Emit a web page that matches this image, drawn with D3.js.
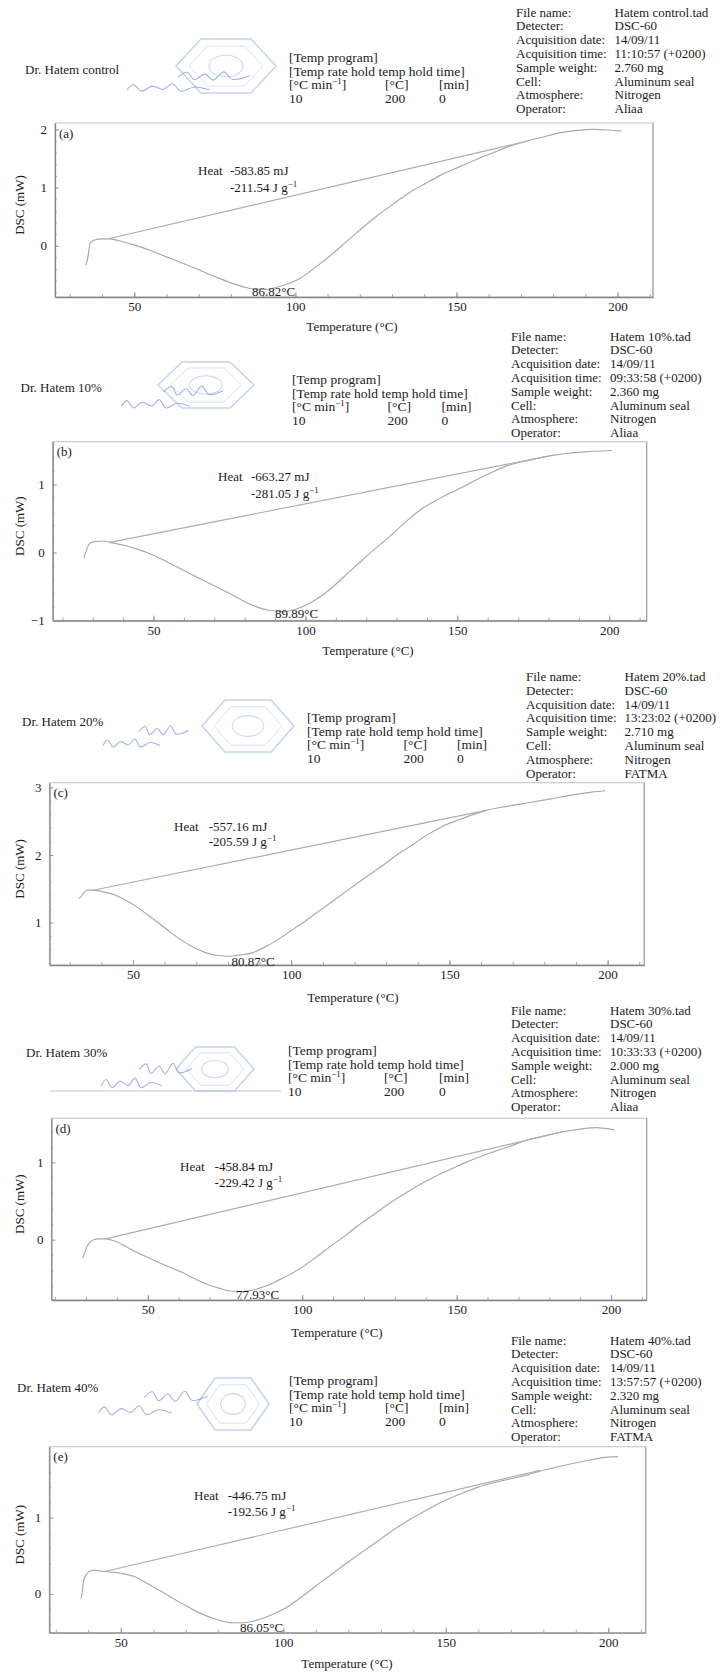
<!DOCTYPE html>
<html>
<head>
<meta charset="utf-8">
<script src="https://cdn.jsdelivr.net/npm/d3@7"></script>
<style>
  body { margin: 0; background: #fff; }
  svg text { font-family: "Liberation Serif", "Times New Roman", serif; fill: #1b1b1b; }
</style>
</head>
<body>
<div id="chart"></div>
<script>
// ---- data ----
const panelLetters = ['(a)', '(b)', '(c)', '(d)', '(e)'];
const sampleNames = ['Dr. Hatem control', 'Dr. Hatem 10%', 'Dr. Hatem 20%', 'Dr. Hatem 30%', 'Dr. Hatem 40%'];
const fileNames = ['Hatem control.tad', 'Hatem 10%.tad', 'Hatem 20%.tad', 'Hatem 30%.tad', 'Hatem 40%.tad'];
const acqDates = ['14/09/11', '14/09/11', '14/09/11', '14/09/11', '14/09/11'];
const acqTimes = ['11:10:57 (+0200)', '09:33:58 (+0200)', '13:23:02 (+0200)', '10:33:33 (+0200)', '13:57:57 (+0200)'];
const sampleWeights = ['2.760 mg', '2.360 mg', '2.710 mg', '2.000 mg', '2.320 mg'];
const operators = ['Aliaa', 'Aliaa', 'FATMA', 'Aliaa', 'FATMA'];
const heatMJ = ['-583.85', '-663.27', '-557.16', '-458.84', '-446.75'];
const heatJg = ['-211.54', '-281.05', '-205.59', '-229.42', '-192.56'];
const peakTemps = ['86.82', '89.89', '80.87', '77.93', '86.05'];

const xTicks = [50, 100, 150, 200];
const yTicks = [[0, 1, 2], [-1, 0, 1], [1, 2, 3], [0, 1], [0, 1]];
const xDomains = [[25.4, 211], [16.8, 212.3], [23.6, 211.6], [18.8, 211.5], [28.0, 211.5]];
const yDomains = [[-0.88, 2.11], [-1.0, 1.63], [0.37, 3.07], [-0.78, 1.57], [-0.51, 1.93]];

// temperature (°C) / heat flow (mW)
const tempA = [35.0, 35.6, 36.3, 37.3, 38.5, 40, 42.5, 45, 49.7, 55, 60, 65, 70.4, 75, 80.7, 85, 88, 91, 95, 101.4, 106, 111.7, 116, 120, 125, 130.4, 135, 140.7, 145, 151, 156, 161.4, 166, 172, 177, 182, 187, 192.4, 197, 201.2];
const dscA = [-0.33, -0.2, 0.04, 0.09, 0.11, 0.12, 0.12, 0.09, 0.02, -0.08, -0.19, -0.3, -0.42, -0.53, -0.65, -0.72, -0.75, -0.75, -0.70, -0.56, -0.38, -0.13, 0.08, 0.27, 0.5, 0.72, 0.90, 1.08, 1.21, 1.36, 1.48, 1.60, 1.70, 1.80, 1.87, 1.94, 1.98, 2.0, 1.99, 1.97];

const tempB = [27.1, 27.8, 28.9, 30.5, 33.5, 35.6, 40, 44.7, 50, 55, 59.8, 65, 70, 74.9, 80, 83.9, 88, 93, 97, 102, 107, 112.6, 118, 122, 127.6, 132, 137, 142.7, 147, 150.3, 155, 160, 165.4, 170, 175, 179, 183, 186.5, 192, 196, 200.8];
const dscB = [-0.08, 0.02, 0.13, 0.16, 0.17, 0.15, 0.11, 0.05, -0.04, -0.15, -0.26, -0.38, -0.49, -0.6, -0.72, -0.8, -0.85, -0.87, -0.83, -0.73, -0.58, -0.36, -0.14, 0.02, 0.23, 0.41, 0.6, 0.76, 0.86, 0.93, 1.04, 1.15, 1.26, 1.32, 1.37, 1.41, 1.44, 1.46, 1.48, 1.49, 1.50];

const tempC = [32.9, 33.5, 34.8, 36, 37.7, 40, 44.2, 48, 51.5, 55, 58.7, 62, 65.9, 70, 73.2, 77, 80.4, 84, 87.7, 91, 94.9, 100, 105, 109.4, 115, 120, 123.9, 130, 134, 138.4, 142, 145.7, 149, 152.9, 157, 161.6, 167, 174.6, 182, 189, 195, 199.2];
const dscC = [1.36, 1.38, 1.46, 1.48, 1.48, 1.46, 1.41, 1.32, 1.22, 1.10, 0.97, 0.85, 0.72, 0.61, 0.55, 0.51, 0.50, 0.52, 0.55, 0.62, 0.72, 0.88, 1.04, 1.19, 1.38, 1.55, 1.68, 1.88, 2.02, 2.15, 2.27, 2.37, 2.45, 2.52, 2.59, 2.66, 2.71, 2.77, 2.83, 2.89, 2.93, 2.95];

const tempD = [28.9, 29.5, 30.2, 31.1, 32.5, 34.1, 36.3, 40, 43, 46.7, 50, 55, 61.6, 66, 70, 73.4, 76, 79.4, 83, 86, 88.3, 93, 98.7, 105, 109, 113.5, 118, 123, 128.3, 133, 138, 143.2, 148, 153, 158, 163, 168, 172.9, 178, 184.8, 190, 195.2, 198, 201.1];
const dscD = [-0.24, -0.18, -0.1, -0.04, 0.0, 0.01, 0.01, -0.03, -0.09, -0.17, -0.23, -0.32, -0.43, -0.52, -0.59, -0.63, -0.66, -0.67, -0.66, -0.63, -0.6, -0.51, -0.39, -0.21, -0.09, 0.04, 0.18, 0.32, 0.47, 0.59, 0.71, 0.82, 0.91, 1.0, 1.08, 1.15, 1.22, 1.29, 1.34, 1.40, 1.43, 1.45, 1.44, 1.42];

const tempE = [37.6, 37.9, 38.2, 38.6, 39.5, 40.7, 42, 43.7, 46, 50, 53.9, 58, 64.1, 69, 74.2, 79, 84.4, 88, 90.5, 95, 99.7, 105, 109.9, 115, 120, 125, 130, 135, 140, 145, 150, 155, 160, 165, 170, 175, 179, 185, 190, 195, 199, 203];
const dscE = [-0.06, -0.04, 0.05, 0.18, 0.26, 0.30, 0.31, 0.30, 0.29, 0.27, 0.23, 0.14, -0.01, -0.13, -0.25, -0.33, -0.38, -0.38, -0.36, -0.30, -0.21, -0.06, 0.10, 0.26, 0.42, 0.57, 0.72, 0.87, 1.0, 1.12, 1.23, 1.32, 1.40, 1.46, 1.51, 1.56, 1.61, 1.67, 1.72, 1.76, 1.79, 1.80];

// integration baseline end points [start, end]
const baseTemps = [[42, 172], [35.6, 179], [37.7, 161.6], [36.3, 184.8], [44.7, 179]];
const baseDsc = [[0.12, 1.80], [0.15, 1.41], [1.48, 2.66], [0.01, 1.40], [0.29, 1.62]];

const temps = [tempA, tempB, tempC, tempD, tempE];
const dscs = [dscA, dscB, dscC, dscD, dscE];

// ---- layout (pixels) ----
const frames = [
  {left: 55, right: 653, top: 123, bottom: 297},
  {left: 52.7, right: 646.6, top: 441.7, bottom: 620.5},
  {left: 49.5, right: 644.3, top: 782.7, bottom: 965},
  {left: 51.4, right: 646.6, top: 1118.3, bottom: 1300},
  {left: 49.3, right: 645.7, top: 1446.7, bottom: 1632.7}
];
const headers = [
  {nameX: 25, nameY: 74, progX: 289, progY: 62, col2: 385, col3: 439, metaX: 516, valX: 614.5, metaY: 16.5},
  {nameX: 20.6, nameY: 392, progX: 292, progY: 384, col2: 387.5, col3: 441.6, metaX: 511, valX: 610, metaY: 340.5},
  {nameX: 22, nameY: 725.5, progX: 307, progY: 722, col2: 403.6, col3: 457, metaX: 526, valX: 624.6, metaY: 681},
  {nameX: 26, nameY: 1057, progX: 288, progY: 1055, col2: 384, col3: 439, metaX: 511, valX: 610, metaY: 1014.5},
  {nameX: 17, nameY: 1392, progX: 289, progY: 1385, col2: 385, col3: 439, metaX: 511, valX: 610, metaY: 1344.5}
];
const notes = [
  {heatX: 198, heatY: 175, valX: 230, jgY: 191.5, peakX: 252, peakY: 296, titleX: 352, titleY: 331},
  {heatX: 218, heatY: 481, valX: 251, jgY: 498, peakX: 275, peakY: 617.5, titleX: 368, titleY: 655},
  {heatX: 174, heatY: 830.5, valX: 208.7, jgY: 846, peakX: 231.6, peakY: 966, titleX: 353, titleY: 1001.7},
  {heatX: 180, heatY: 1171, valX: 214.6, jgY: 1187, peakX: 236, peakY: 1299, titleX: 337, titleY: 1336.7},
  {heatX: 194, heatY: 1499.5, valX: 227.7, jgY: 1515.5, peakX: 240, peakY: 1632, titleX: 347, titleY: 1668}
];
const stamps = [
  {hex: {x: 176, y: 39, w: 100, h: 54}, scrib: {x: 124, y: 70, w: 135, h: 23}},
  {hex: {x: 158, y: 362, w: 96, h: 46}, scrib: {x: 119, y: 384, w: 112, h: 26}},
  {hex: {x: 202, y: 700, w: 92, h: 52}, scrib: {x: 101, y: 724, w: 94, h: 25}},
  {hex: {x: 176, y: 1047, w: 78, h: 44}, scrib: {x: 99, y: 1061, w: 100, h: 29}, rule: 1091},
  {hex: {x: 197, y: 1378, w: 72, h: 52}, scrib: {x: 96, y: 1389, w: 120, h: 28}}
];
// normalised pen strokes for the handwritten signature/date on the stamps
const penStrokes = [
  [[0.40, 0.30], [0.47, 0.10], [0.52, 0.42], [0.60, 0.18], [0.66, 0.44], [0.74, 0.08], [0.80, 0.40], [0.93, 0.26]],
  [[0.02, 0.86], [0.07, 0.64], [0.13, 0.92], [0.21, 0.70], [0.29, 0.84], [0.36, 0.60], [0.42, 0.92], [0.52, 0.74], [0.63, 0.86]]
];

const W = 720, H = 1674;
const svg = d3.select('#chart').append('svg')
  .attr('width', W)
  .attr('height', H);

function hexPoints(b, k) {
  const cx = b.x + b.w / 2, cy = b.y + b.h / 2, hw = b.w * k / 2, hh = b.h * k / 2;
  return [[cx - hw, cy], [cx - hw / 2, cy - hh], [cx + hw / 2, cy - hh], [cx + hw, cy], [cx + hw / 2, cy + hh], [cx - hw / 2, cy + hh]]
    .map(p => p.join(',')).join(' ');
}

function drawStamp(st) {
  const g = svg.append('g').attr('fill', 'none');
  if (st.rule) {
    g.append('line')
      .attr('x1', 50).attr('x2', 281)
      .attr('y1', st.rule).attr('y2', st.rule)
      .attr('stroke', '#c3c7cf').attr('stroke-width', 1.2);
  }
  const h = st.hex;
  g.append('polygon').attr('points', hexPoints(h, 1))
    .attr('stroke', '#a9c0ec').attr('stroke-width', 1.5).attr('stroke-opacity', 0.7);
  g.append('polygon').attr('points', hexPoints(h, 0.74))
    .attr('stroke', '#bccdf0').attr('stroke-width', 1).attr('stroke-opacity', 0.6);
  g.append('ellipse')
    .attr('cx', h.x + h.w / 2).attr('cy', h.y + h.h / 2)
    .attr('rx', h.w * 0.17).attr('ry', h.h * 0.2)
    .attr('stroke', '#b5c8ef').attr('stroke-width', 1.1).attr('stroke-opacity', 0.7);

  const sc = st.scrib;
  const pen = d3.line().curve(d3.curveCatmullRom);
  penStrokes.forEach(stroke => {
    g.append('path')
      .attr('d', pen(stroke.map(([u, v]) => [sc.x + u * sc.w, sc.y + v * sc.h])))
      .attr('stroke', '#7a93d8')
      .attr('stroke-width', 1.1)
      .attr('stroke-opacity', 0.7);
  });
}

function drawHeader(i) {
  const hd = headers[i];
  svg.append('text').attr('x', hd.nameX).attr('y', hd.nameY)
    .attr('font-size', 13).text(sampleNames[i]);

  drawStamp(stamps[i]);

  // temperature program block
  const prog = svg.append('g').attr('font-size', 13.5);
  const rowH = 13.7;
  prog.append('text').attr('x', hd.progX).attr('y', hd.progY).text('[Temp program]');
  prog.append('text').attr('x', hd.progX).attr('y', hd.progY + rowH).text('[Temp rate hold temp hold time]');
  const unit = prog.append('text').attr('x', hd.progX).attr('y', hd.progY + 2 * rowH);
  unit.append('tspan').text('[°C min');
  unit.append('tspan').attr('dy', -5).attr('font-size', 9).text('−1');
  unit.append('tspan').attr('dy', 5).text(']');
  prog.append('text').attr('x', hd.col2).attr('y', hd.progY + 2 * rowH).text('[°C]');
  prog.append('text').attr('x', hd.col3).attr('y', hd.progY + 2 * rowH).text('[min]');
  prog.append('text').attr('x', hd.progX).attr('y', hd.progY + 3 * rowH).text('10');
  prog.append('text').attr('x', hd.col2).attr('y', hd.progY + 3 * rowH).text('200');
  prog.append('text').attr('x', hd.col3).attr('y', hd.progY + 3 * rowH).text('0');

  // acquisition metadata
  const labels = ['File name:', 'Detecter:', 'Acquisition date:', 'Acquisition time:', 'Sample weight:', 'Cell:', 'Atmosphere:', 'Operator:'];
  const values = [fileNames[i], 'DSC-60', acqDates[i], acqTimes[i], sampleWeights[i], 'Aluminum seal', 'Nitrogen', operators[i]];
  const meta = svg.append('g').attr('font-size', 13);
  meta.selectAll('text.lab').data(labels).enter().append('text')
    .attr('class', 'lab')
    .attr('x', hd.metaX)
    .attr('y', (d, k) => hd.metaY + k * 13.8)
    .text(d => d);
  meta.selectAll('text.val').data(values).enter().append('text')
    .attr('class', 'val')
    .attr('x', hd.valX)
    .attr('y', (d, k) => hd.metaY + k * 13.8)
    .text(d => d);
}

function drawPlot(i) {
  const fr = frames[i], nt = notes[i];
  const x = d3.scaleLinear().domain(xDomains[i]).range([fr.left, fr.right]);
  const y = d3.scaleLinear().domain(yDomains[i]).range([fr.bottom, fr.top]);
  const g = svg.append('g');

  // frame
  g.append('rect')
    .attr('x', fr.left).attr('y', fr.top)
    .attr('width', fr.right - fr.left).attr('height', fr.bottom - fr.top)
    .attr('fill', 'none').attr('stroke', '#cbcbcb').attr('stroke-width', 1.2);
  g.append('line')
    .attr('x1', fr.right).attr('x2', fr.right).attr('y1', fr.top).attr('y2', fr.bottom)
    .attr('stroke', '#a2a2a2').attr('stroke-width', 1.2);

  // minor ticks
  const minorX = d3.range(Math.ceil(xDomains[i][0] / 10) * 10, xDomains[i][1], 10);
  g.append('g')
    .attr('transform', `translate(0,${fr.bottom})`)
    .call(d3.axisBottom(x).tickValues(minorX).tickSize(-3).tickSizeOuter(0).tickFormat(''))
    .call(s => s.select('.domain').remove())
    .call(s => s.selectAll('line').attr('stroke', '#a5a5a5'));
  const minorY = d3.range(Math.ceil(yDomains[i][0] * 5) / 5, yDomains[i][1], 0.2);
  g.append('g')
    .attr('transform', `translate(${fr.left},0)`)
    .call(d3.axisLeft(y).tickValues(minorY).tickSize(-2).tickSizeOuter(0).tickFormat(''))
    .call(s => s.select('.domain').remove())
    .call(s => s.selectAll('line').attr('stroke', '#bcbcbc'));

  // main axes
  const xAxis = g.append('g')
    .attr('transform', `translate(0,${fr.bottom})`)
    .call(d3.axisBottom(x).tickValues(xTicks).tickSize(-5).tickSizeOuter(0).tickPadding(5));
  const yAxis = g.append('g')
    .attr('transform', `translate(${fr.left},0)`)
    .call(d3.axisLeft(y).tickValues(yTicks[i]).tickSize(-4).tickSizeOuter(0).tickPadding(8).tickFormat(d3.format('d')));
  [xAxis, yAxis].forEach(ax => {
    ax.select('.domain').attr('stroke', '#858585').attr('stroke-width', 1.3);
    ax.selectAll('.tick line').attr('stroke', '#959595');
    ax.selectAll('.tick text')
      .attr('font-family', '"Liberation Serif", "Times New Roman", serif')
      .attr('font-size', 13)
      .attr('fill', '#1b1b1b');
  });

  // DSC trace and integration baseline
  const line = d3.line()
    .x(d => x(d[0]))
    .y(d => y(d[1]))
    .curve(d3.curveMonotoneX);
  g.append('path')
    .datum(temps[i].map((t, k) => [t, dscs[i][k]]))
    .attr('d', line)
    .attr('fill', 'none')
    .attr('stroke', '#a8a8a8')
    .attr('stroke-width', 1.15);
  g.append('path')
    .datum(baseTemps[i].map((t, k) => [t, baseDsc[i][k]]))
    .attr('d', d3.line().x(d => x(d[0])).y(d => y(d[1])))
    .attr('fill', 'none')
    .attr('stroke', '#adadad')
    .attr('stroke-width', 1.15);

  // labels
  g.append('text').attr('x', fr.left + 4).attr('y', fr.top + 14.5)
    .attr('font-size', 13).text(panelLetters[i]);
  g.append('text').attr('x', nt.heatX).attr('y', nt.heatY)
    .attr('font-size', 13).text('Heat');
  g.append('text').attr('x', nt.valX).attr('y', nt.heatY)
    .attr('font-size', 13).text(`${heatMJ[i]} mJ`);
  const jg = g.append('text').attr('x', nt.valX).attr('y', nt.jgY).attr('font-size', 13);
  jg.append('tspan').text(`${heatJg[i]} J g`);
  jg.append('tspan').attr('dy', -5).attr('font-size', 9).text('−1');
  g.append('text').attr('x', nt.peakX).attr('y', nt.peakY)
    .attr('font-size', 13).text(`${peakTemps[i]}°C`);

  g.append('text')
    .attr('text-anchor', 'middle')
    .attr('x', nt.titleX).attr('y', nt.titleY)
    .attr('font-size', 13)
    .text('Temperature (°C)');
  g.append('text')
    .attr('text-anchor', 'middle')
    .attr('transform', `translate(24,${(fr.top + fr.bottom) / 2 - 5}) rotate(-90)`)
    .attr('font-size', 13)
    .text('DSC (mW)');
}

panelLetters.forEach((p, i) => {
  drawHeader(i);
  drawPlot(i);
});
</script>
</body>
</html>
